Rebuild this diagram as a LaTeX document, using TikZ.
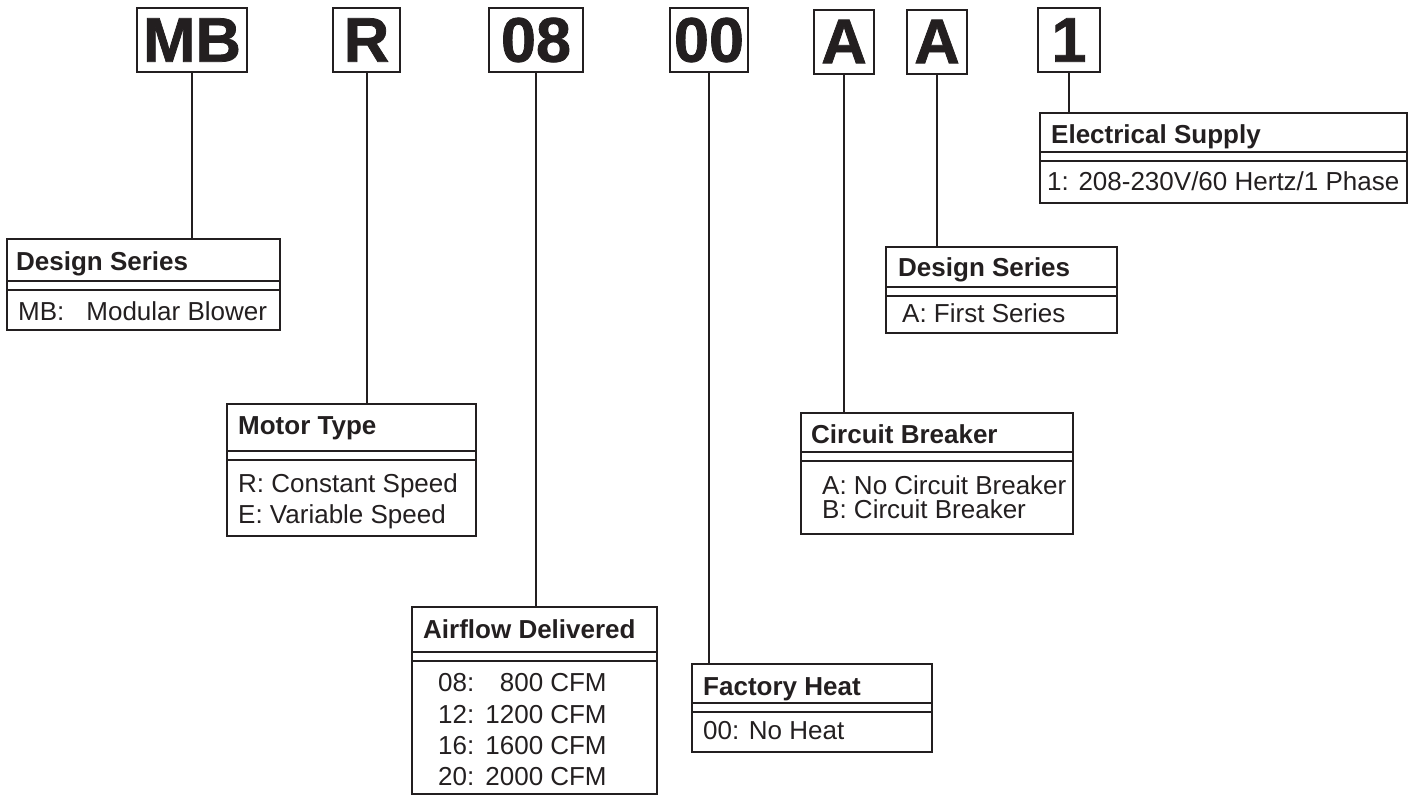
\documentclass[tikz,border=0pt]{standalone}
\usepackage{fontspec}
\setmainfont{Liberation Sans}
\newfontfamily\heavyfont{Liberation Sans Bold}[FakeBold=1.2]
\definecolor{ink}{RGB}{35,31,32}

\begin{document}
\begin{tikzpicture}[x=1pt,y=-1pt,
    letter/.style={draw=ink,line width=2,inner sep=0,outer sep=0,minimum height=64,
      text=ink,font=\fontsize{63}{63}\heavyfont},
    codebox/.style={draw=ink,line width=2,inner sep=0,outer sep=0,anchor=north west},
    ttl/.style={anchor=base west,inner sep=0,text=ink,font=\fontsize{26}{30}\selectfont\bfseries},
    txt/.style={anchor=base west,inner sep=0,text=ink,font=\fontsize{26}{30}\selectfont},
    sepline/.style={draw=ink,line width=1.2},
    lead/.style={draw=ink,line width=2}]
  \useasboundingbox (0,0) rectangle (1411,796);

  % model number characters
  \foreach \nm/\cx/\cy/\w/\lbl in {mb/192/40/110/MB, r/366.5/40/67/R, air/536/40/94/08,
      heat/709/40/78/00, brk/844/41.5/60/A, ser/937/41.5/60/A, sup/1069/40/62/1}
    \node[letter,minimum width=\w] (\nm) at (\cx,\cy) {\lbl};

  % code boxes with double rule under the title
  \foreach \nm/\xa/\ya/\xb/\yb/\sa in {dsmb/7/239/280/330/281, mt/227/404/476/536/451,
      af/412/607/657/794/652, fh/692/664/932/752/703, cb/801/413/1073/534/452,
      dsa/886/247/1117/333/287, es/1040/113/1407/203/152}{
    \node[codebox,minimum width={\xb-\xa},minimum height={\yb-\ya}] (\nm) at (\xa,\ya) {};
    \draw[sepline] (\xa,\sa) -- (\xb,\sa) (\xa,\sa+9) -- (\xb,\sa+9);
  }

  % leaders
  \foreach \from/\to in {mb/dsmb, r/mt, air/af, heat/fh, brk/cb, ser/dsa, sup/es}
    \draw[lead] (\from.south) -- (\from.south |- \to.north);

  % titles
  \node[ttl] (dsmb-t) at (16,270) {Design Series};
  \node[ttl] (mt-t) at (238,434) {Motor Type};
  \node[ttl] (af-t) at (423,638) {Airflow Delivered};
  \node[ttl] (fh-t) at (703,695) {Factory Heat};
  \node[ttl] (cb-t) at (811,443) {Circuit Breaker};
  \node[ttl] (dsa-t) at (898,276) {Design Series};
  \node[ttl] (es-t) at (1051,143) {Electrical Supply};

  % options
  \node[txt] (dsmb-1) at (18,320) {MB:\hspace{22pt}Modular Blower};
  \node[txt] (mt-1) at (238,492) {R: Constant Speed};
  \node[txt] (mt-2) at (238,523) {E: Variable Speed};
  \foreach \k/\v/\yy in {08/800/691, 12/1200/723, 16/1600/754, 20/2000/785}
    \node[txt] (af-\k) at (438,\yy) {\k:\makebox[69pt][r]{\v}\hspace{7pt}CFM};
  \node[txt] (fh-1) at (703,739) {00: No Heat};
  \node[txt] (cb-1) at (822,494) {A: No Circuit Breaker};
  \node[txt] (cb-2) at (822,518) {B: Circuit Breaker};
  \node[txt] (dsa-1) at (902,322) {A: First Series};
  \node[txt] (es-1) at (1047,190) {1: 208-230V/60 Hertz/1 Phase};
\end{tikzpicture}
\end{document}
